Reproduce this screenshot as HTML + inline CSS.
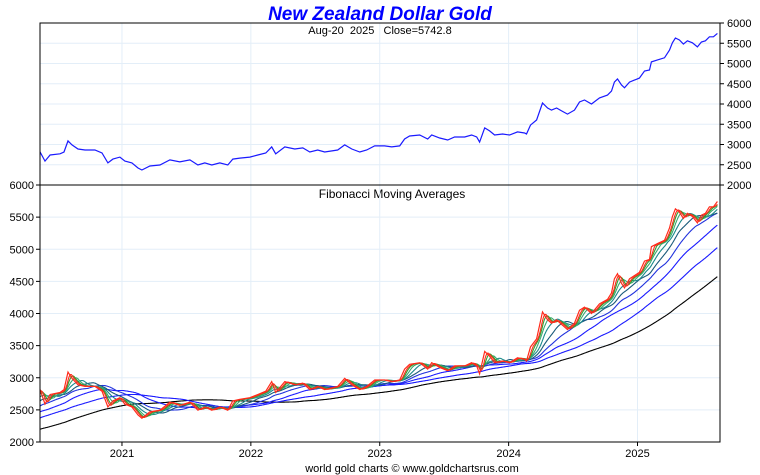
<!DOCTYPE html>
<html><head><meta charset="utf-8"><style>
body{margin:0;background:#fff;}
svg{display:block;font-family:"Liberation Sans",sans-serif;}
</style></head><body>
<svg id="chart" width="760" height="475" viewBox="0 0 760 475">
<text x="380" y="20" text-anchor="middle" font-size="19" font-weight="bold" font-style="italic" fill="#0000ff">New Zealand Dollar Gold</text>
<text x="380" y="34" text-anchor="middle" font-size="11" fill="#000" xml:space="preserve">Aug-20  2025   Close=5742.8</text>
<text x="392" y="198" text-anchor="middle" font-size="12" fill="#000">Fibonacci Moving Averages</text>
<text x="412" y="472" text-anchor="middle" font-size="11" fill="#000">world gold charts © www.goldchartsrus.com</text>
<g id="grid"></g>
<g id="marks"></g>
<g id="axes"></g>
</svg>
<script>
const dates=[2018.8,2019.0,2019.2,2019.4,2019.55,2019.7,2019.85,2020.0,2020.1,2020.2,2020.3,
2020.364,2020.403,2020.442,2020.519,2020.550,2020.581,2020.612,2020.659,2020.713,2020.790,2020.845,2020.891,2020.930,2020.984,
2021.023,2021.077,2021.124,2021.155,2021.217,2021.294,2021.372,2021.449,2021.527,2021.589,2021.643,2021.697,2021.759,2021.821,2021.860,2021.914,2021.992,
2022.054,2022.116,2022.162,2022.193,2022.263,2022.341,2022.403,2022.457,2022.519,2022.573,2022.674,2022.728,2022.783,2022.845,2022.899,2022.961,
2023.038,2023.093,2023.155,2023.193,2023.232,2023.310,2023.372,2023.403,2023.465,2023.527,2023.581,2023.659,2023.713,2023.752,2023.775,2023.814,2023.852,2023.891,2023.953,
2024.007,2024.069,2024.124,2024.139,2024.170,2024.217,2024.263,2024.302,2024.333,2024.372,2024.411,2024.457,2024.511,2024.550,2024.589,2024.643,2024.705,2024.767,2024.798,2024.821,2024.845,2024.876,2024.899,2024.938,2024.976,
2025.015,2025.054,2025.093,2025.108,2025.155,2025.209,2025.248,2025.271,2025.294,2025.325,2025.356,2025.387,2025.426,2025.465,2025.496,2025.527,2025.558,2025.589,2025.620];
const prices=[1850,1900,1910,1950,2150,2350,2300,2350,2450,2550,2700,
2820,2590,2740,2770,2815,3090,2990,2890,2865,2865,2790,2545,2640,2690,
2590,2545,2420,2370,2470,2495,2620,2570,2620,2495,2545,2495,2545,2495,2640,2665,2690,
2740,2790,2940,2770,2940,2890,2915,2815,2865,2815,2865,2990,2890,2815,2865,2965,
2965,2940,2965,3135,3210,3235,3135,3235,3160,3110,3185,3185,3235,3185,3060,3410,3335,3235,3260,
3235,3310,3285,3260,3480,3605,4025,3900,3850,3900,3830,3750,3850,4050,4100,4000,4150,4220,4320,4540,4620,4470,4400,4540,4590,
4640,4815,4840,5040,5090,5140,5330,5510,5630,5580,5480,5560,5510,5410,5530,5560,5660,5660,5743];
const yearTicks=[2021,2022,2023,2024,2025];
const topTicks=[2000,2500,3000,3500,4000,4500,5000,5500,6000];
const botTicks=[2000,2500,3000,3500,4000,4500,5000,5500,6000];
const maDays=[377,233,144,89,55,34,21,13,8];
const maColors=["#000000","#1a1aff","#1a1aff","#2233dd","#1a5a7a","#1a8a8a","#3aa870","#2ca02c","#ff2a1a"];

const NS="http://www.w3.org/2000/svg";
const X0=40,X1=720,T0=2020.364,T1=2025.64;
const x=t=>X0+(t-T0)/(T1-T0)*(X1-X0);
const yTop=p=>185-(p-2000)/4000*162;
const yBot=p=>442-(p-2000)/4000*257;
function mk(tag,attrs,parent){const e=document.createElementNS(NS,tag);for(const k in attrs)e.setAttribute(k,attrs[k]);parent.appendChild(e);return e;}
const grid=document.getElementById('grid'),marks=document.getElementById('marks'),axes=document.getElementById('axes');

// clip
const defs=mk('defs',{},document.getElementById('chart'));
const cp=mk('clipPath',{id:'clipB'},defs);mk('rect',{x:X0,y:185,width:X1-X0,height:257},cp);
const cp2=mk('clipPath',{id:'clipT'},defs);mk('rect',{x:X0,y:23,width:X1-X0,height:162},cp2);

// grid
topTicks.forEach(v=>{const l=mk('line',{x1:X0,x2:X1,y1:yTop(v),y2:yTop(v),stroke:'#e3eef8','stroke-width':1},grid);

});
botTicks.forEach(v=>{const l=mk('line',{x1:X0,x2:X1,y1:yBot(v),y2:yBot(v),stroke:'#e3eef8','stroke-width':1},grid);

});
yearTicks.forEach(yr=>{const l=mk('line',{x1:x(yr),x2:x(yr),y1:23,y2:442,stroke:'#e3eef8','stroke-width':1},grid);


const t=mk('text',{x:x(yr),y:457,'text-anchor':'middle','font-size':11,fill:'#000'},axes);t.textContent=yr;


mk('line',{x1:x(yr),x2:x(yr),y1:442,y2:446,stroke:'#000'},axes);});

// price path top
function pathOf(ts,vs,yf){return ts.map((t,i)=>(i?'L':'M')+x(t).toFixed(1)+' '+yf(vs[i]).toFixed(1)).join(' ');}
const topLine=mk('path',{d:pathOf(dates,prices,yTop),fill:'none',stroke:'#1a1aff','stroke-width':1.2,'clip-path':'url(#clipT)'},marks);



// daily grid for MAs
const step=1/365;const dT=[],dP=[];
for(let t=dates[0];t<=dates[dates.length-1]+1e-9;t+=step){
 let j=0;while(j<dates.length-2&&dates[j+1]<t)j++;
 const f=Math.min(1,Math.max(0,(t-dates[j])/(dates[j+1]-dates[j])));
 dT.push(t);dP.push(prices[j]+(prices[j+1]-prices[j])*f);}
maDays.forEach((n,k)=>{
 const w=Math.round(n*365/252);const ts=[],vs=[];let s=0;
 for(let i=0;i<dP.length;i++){s+=dP[i];if(i>=w)s-=dP[i-w];
  if(dT[i]>=T0-0.01){ts.push(dT[i]);vs.push(s/Math.min(i+1,w));}}
 const p=mk('path',{d:pathOf(ts,vs,yBot),fill:'none',stroke:maColors[k],'stroke-width':1.1,'clip-path':'url(#clipB)'},marks);
 
 
});
const botLine=mk('path',{d:pathOf(dates,prices,yBot),fill:'none',stroke:'#ff2a1a','stroke-width':1.2,'clip-path':'url(#clipB)'},marks);



// axes
mk('rect',{x:X0,y:23,width:X1-X0,height:419,fill:'none',stroke:'#000','stroke-width':1},axes);
mk('line',{x1:X0,x2:X1,y1:185,y2:185,stroke:'#000'},axes);
topTicks.forEach(v=>{mk('line',{x1:X1,x2:X1+4,y1:yTop(v),y2:yTop(v),stroke:'#000'},axes);
 const t=mk('text',{x:X1+7,y:yTop(v)+4,'font-size':11,fill:'#000'},axes);t.textContent=v;
 
 });
botTicks.forEach(v=>{mk('line',{x1:X0-4,x2:X0,y1:yBot(v),y2:yBot(v),stroke:'#000'},axes);
 const t=mk('text',{x:X0-6,y:yBot(v)+4,'font-size':11,'text-anchor':'end',fill:'#000'},axes);t.textContent=v;
 
 });
</script>
</body></html>
